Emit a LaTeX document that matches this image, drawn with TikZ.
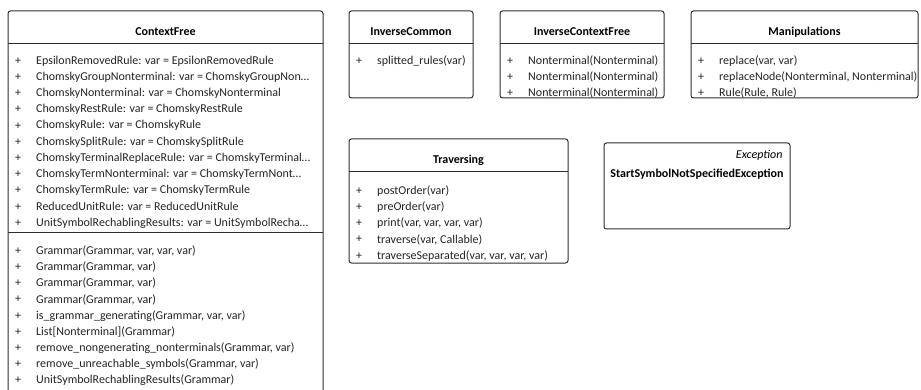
\documentclass[tikz,border=0pt]{standalone}
\usepackage{fontspec}
\setmainfont{Carlito}
\definecolor{frame}{RGB}{45,45,45}
\definecolor{ink}{RGB}{35,35,35}
\tikzstyle{uml}=[
    x=1pt, y=-1pt,
    class box/.style={draw=frame, line width=1pt, rounded corners=2.5pt},
    class rule/.style={draw=frame, line width=1pt},
    class title/.style={font={\fontsize{12}{14}\selectfont\bfseries}},
    stereo/.style={font={\fontsize{12}{14}\selectfont\itshape}, anchor=east},
    plus/.style={font={\fontsize{12}{14}\selectfont}, text=ink},
    member/.style={font={\fontsize{12}{14}\selectfont}, text=ink, anchor=west, inner sep=0pt},
]
\newcommand{\rowh}{16.2}
% box with header line: name, left, top, right, bottom, title
\newcommand{\umlbox}[6]{
    \draw[class box] (#2,#3) rectangle (#4,#5);
    \node[class title] (#1) at ({(#2+#4)/2},#3+21) {#6};
    \draw[class rule] (#2,#3+33) -- (#4,#3+33);
}
% members: name, left, top, right, bottom, first row, list
\newcommand{\members}[7]{
    \begin{scope}
    \clip (#2,#3) rectangle (#4,#5);
    \foreach \m [count=\i] in {#7}{
        \pgfmathsetmacro{\rowy}{#6+(\i-1)*\rowh}
        \node[plus] (#1-p\i) at (#2+10,\rowy) {+};
        \node[member] (#1-m\i) at (#2+28,\rowy) {\m};
    }
    \end{scope}
}

\begin{document}
\begin{tikzpicture}[uml]
    \clip (0,0) rectangle (921,390);
    \useasboundingbox (0,0) rectangle (921,390);

    % ContextFree
    \umlbox{contextfree}{8}{11}{323}{420}{ContextFree}
    \members{cfattr}{8}{44}{323}{420}{61}{
        {EpsilonRemovedRule: var = EpsilonRemovedRule},
        {ChomskyGroupNonterminal: var = ChomskyGroupNon…},
        {ChomskyNonterminal: var = ChomskyNonterminal},
        {ChomskyRestRule: var = ChomskyRestRule},
        {ChomskyRule: var = ChomskyRule},
        {ChomskySplitRule: var = ChomskySplitRule},
        {ChomskyTerminalReplaceRule: var = ChomskyTerminal…},
        {ChomskyTermNonterminal: var = ChomskyTermNont…},
        {ChomskyTermRule: var = ChomskyTermRule},
        {ReducedUnitRule: var = ReducedUnitRule},
        {UnitSymbolRechablingResults: var = UnitSymbolRecha…}}
    \pgfmathsetmacro{\sepy}{61+10*\rowh+10}
    \draw[class rule] (8,\sepy) -- (323,\sepy);
    \members{cfop}{8}{44}{323}{420}{\sepy+18}{
        {Grammar(Grammar, var, var, var)},
        {Grammar(Grammar, var)},
        {Grammar(Grammar, var)},
        {Grammar(Grammar, var)},
        {is\_grammar\_generating(Grammar, var, var)},
        {List[Nonterminal](Grammar)},
        {remove\_nongenerating\_nonterminals(Grammar, var)},
        {remove\_unreachable\_symbols(Grammar, var)},
        {UnitSymbolRechablingResults(Grammar)}}

    % top row
    \umlbox{inversecommon}{349}{11}{473}{98}{InverseCommon}
    \members{icop}{349}{44}{473}{98}{61}{{splitted\_rules(var)}}

    \umlbox{inversecf}{500}{11}{664}{98}{InverseContextFree}
    \members{icfop}{500}{44}{664}{98}{61}{
        {Nonterminal(Nonterminal)},
        {Nonterminal(Nonterminal)},
        {Nonterminal(Nonterminal)}}

    \umlbox{manipulations}{691}{11}{918}{98}{Manipulations}
    \members{manop}{691}{44}{918}{98}{61}{
        {replace(var, var)},
        {replaceNode(Nonterminal, Nonterminal)},
        {Rule(Rule, Rule)}}

    % second row
    \umlbox{traversing}{349}{139}{568}{263}{Traversing}
    \members{travop}{349}{172}{568}{263}{191}{
        {postOrder(var)},
        {preOrder(var)},
        {print(var, var, var, var)},
        {traverse(var, Callable)},
        {traverseSeparated(var, var, var, var)}}

    \draw[class box] (604,143) rectangle (790,229);
    \node[stereo] (excstereo) at (786,155) {Exception};
    \node[class title] (startsymbol) at (697,174) {StartSymbolNotSpecifiedException};
\end{tikzpicture}
\end{document}
